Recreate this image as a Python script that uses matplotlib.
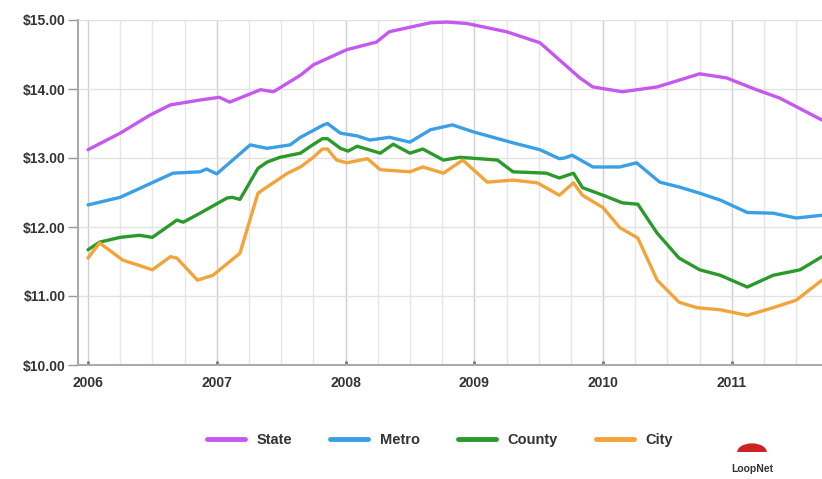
import matplotlib
matplotlib.use("Agg")
import matplotlib.pyplot as plt
from matplotlib.patches import Wedge

plt.rcParams['font.family'] = ['Liberation Sans', 'DejaVu Sans']

state_x = [2006.00, 2006.25, 2006.48, 2006.64, 2006.87, 2007.02, 2007.10, 2007.34, 2007.44, 2007.65,
           2007.75, 2008.01, 2008.24, 2008.34, 2008.66, 2008.79, 2008.94, 2009.25, 2009.51, 2009.82,
           2009.92, 2010.15, 2010.42, 2010.75, 2010.96, 2011.19, 2011.37, 2011.70]
state_y = [13.12, 13.36, 13.62, 13.77, 13.84, 13.88, 13.81, 13.99, 13.96, 14.20,
           14.35, 14.57, 14.68, 14.83, 14.96, 14.97, 14.95, 14.83, 14.67, 14.16,
           14.03, 13.96, 14.03, 14.22, 14.16, 13.99, 13.87, 13.55]

metro_x = [2006.00, 2006.25, 2006.66, 2006.87, 2006.92, 2007.00, 2007.26, 2007.39, 2007.57, 2007.65,
           2007.83, 2007.86, 2007.96, 2008.09, 2008.19, 2008.34, 2008.50, 2008.66, 2008.83, 2008.99,
           2009.30, 2009.51, 2009.66, 2009.70, 2009.76, 2009.92, 2010.13, 2010.26, 2010.44, 2010.59,
           2010.75, 2010.91, 2011.12, 2011.32, 2011.50, 2011.70]
metro_y = [12.32, 12.43, 12.78, 12.80, 12.84, 12.77, 13.19, 13.14, 13.19, 13.30,
           13.48, 13.50, 13.36, 13.32, 13.26, 13.30, 13.23, 13.41, 13.48, 13.38,
           13.22, 13.12, 12.99, 13.00, 13.04, 12.87, 12.87, 12.93, 12.65, 12.58,
           12.49, 12.39, 12.21, 12.20, 12.13, 12.17]

county_x = [2006.00, 2006.09, 2006.25, 2006.40, 2006.50, 2006.69, 2006.74, 2006.87, 2007.08, 2007.12,
            2007.18, 2007.32, 2007.39, 2007.49, 2007.65, 2007.72, 2007.82, 2007.86, 2007.96, 2008.02,
            2008.09, 2008.27, 2008.37, 2008.50, 2008.60, 2008.76, 2008.89, 2009.18, 2009.30, 2009.56,
            2009.66, 2009.77, 2009.84, 2010.00, 2010.15, 2010.27, 2010.42, 2010.59, 2010.75, 2010.91,
            2011.12, 2011.32, 2011.53, 2011.70]
county_y = [11.67, 11.78, 11.85, 11.88, 11.85, 12.10, 12.07, 12.20, 12.42, 12.43,
            12.40, 12.85, 12.94, 13.01, 13.07, 13.16, 13.28, 13.28, 13.14, 13.10,
            13.17, 13.07, 13.20, 13.07, 13.13, 12.97, 13.01, 12.97, 12.80, 12.78,
            12.71, 12.78, 12.57, 12.46, 12.35, 12.33, 11.91, 11.55, 11.38, 11.30,
            11.13, 11.30, 11.38, 11.57]

city_x = [2006.00, 2006.09, 2006.27, 2006.50, 2006.64, 2006.69, 2006.85, 2006.97, 2007.18, 2007.32,
          2007.39, 2007.55, 2007.65, 2007.75, 2007.82, 2007.86, 2007.93, 2008.01, 2008.17, 2008.27,
          2008.50, 2008.60, 2008.76, 2008.91, 2009.10, 2009.30, 2009.49, 2009.66, 2009.77, 2009.84,
          2010.00, 2010.13, 2010.27, 2010.42, 2010.59, 2010.73, 2010.91, 2011.12, 2011.32, 2011.50,
          2011.70]
city_y = [11.55, 11.77, 11.52, 11.38, 11.57, 11.55, 11.23, 11.30, 11.62, 12.49,
          12.58, 12.78, 12.87, 13.01, 13.13, 13.13, 12.97, 12.93, 12.99, 12.83,
          12.80, 12.87, 12.78, 12.97, 12.65, 12.68, 12.64, 12.46, 12.64, 12.46,
          12.28, 11.99, 11.84, 11.23, 10.91, 10.83, 10.80, 10.72, 10.83, 10.94,
          11.23]

series_names = ["State", "Metro", "County", "City"]
series_colors = ["#c558f0", "#3a9fe6", "#2a9a2a", "#f2a43a"]
year_ticks = [2006, 2007, 2008, 2009, 2010, 2011]
y_ticks = [10, 11, 12, 13, 14, 15]

fig = plt.figure(figsize=(8.22, 4.79), dpi=100)
ax = fig.add_axes([78/822, 114/479, 744/822, 345/479])

xs = [state_x, metro_x, county_x, city_x]
ys = [state_y, metro_y, county_y, city_y]
for x, y, c, n in zip(xs, ys, series_colors, series_names):
    ax.plot(x, y, color=c, lw=2.4, label=n, solid_joinstyle='round', solid_capstyle='round', zorder=3)

ax.set_xlim(2006 - 10/128.8, 2011.70)
ax.set_ylim(10, 15)

# quarterly gridlines, yearly darker
for yr in range(2006, 2012):
    for q in range(4):
        xv = yr + q * 0.25
        if xv > 2011.70:
            continue
        ax.axvline(xv, color="#cfcfcf" if q == 0 else "#e6e6e6", lw=1.0, zorder=1)
for yv in y_ticks:
    ax.axhline(yv, color="#e2e2e2", lw=1.0, zorder=1)

ax.set_yticks(y_ticks)
ax.set_yticklabels(["$%d.00" % v for v in y_ticks], fontsize=10, fontweight='bold', color="#333333")
ax.set_xticks(year_ticks)
ax.set_xticklabels([str(v) for v in year_ticks], fontsize=10, fontweight='bold', color="#333333")
ax.tick_params(axis='y', length=7, width=1, color="#999999", pad=2)
ax.tick_params(axis='x', length=3, width=2, color="#777777", pad=8, direction='in')

for s in ['top', 'right']:
    ax.spines[s].set_visible(False)
ax.spines['left'].set_color("#aaaaaa")
ax.spines['bottom'].set_color("#aaaaaa")
ax.spines['left'].set_linewidth(1.5)
ax.spines['bottom'].set_linewidth(1.5)

leg = fig.legend(loc='center', bbox_to_anchor=(440/822, 1 - 440/479), ncol=4, frameon=False,
                 fontsize=10.5, handlelength=2.6, columnspacing=2.6, handletextpad=0.8)
for t in leg.get_texts():
    t.set_color("#333333")
    t.set_fontweight('bold')
for l in leg.get_lines():
    l.set_linewidth(3.5)

# LoopNet logo approximation
fig.text(752/822, 1 - 469/479, "LoopNet", fontsize=7.5, fontweight='bold', color="#333333",
         ha='center', va='center')
logo = Wedge((752/822, 1 - 452/479), 0.018, 0, 180, facecolor="#cc2222", edgecolor='none',
             transform=fig.transFigure)
fig.patches.append(logo)

fig.savefig("out.png", dpi=100)
